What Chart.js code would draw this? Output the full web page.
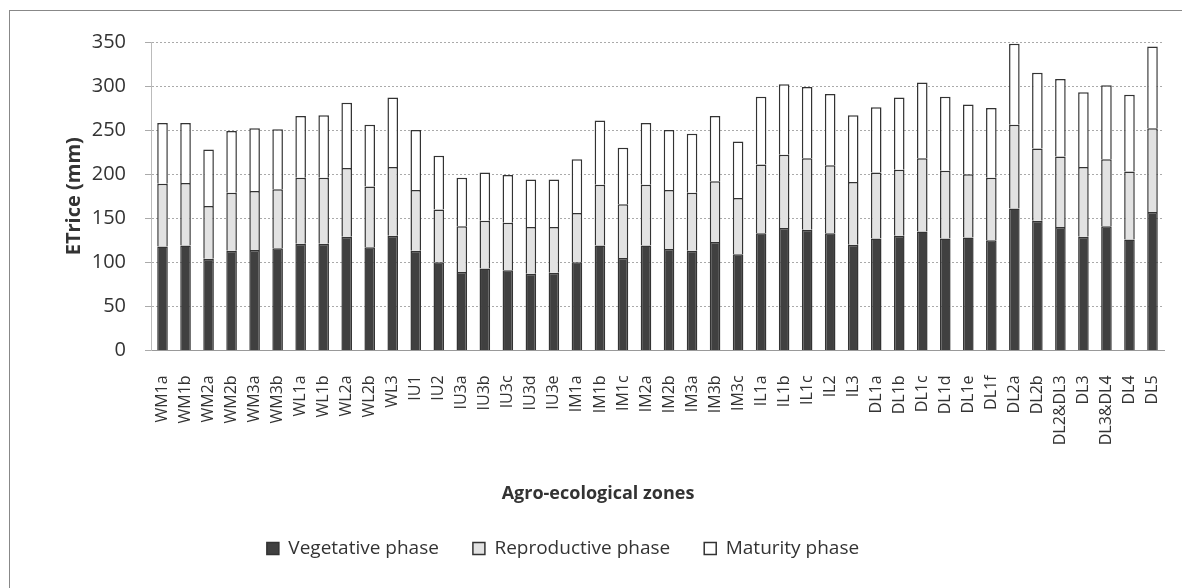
<!DOCTYPE html>
<html>
<head>
<meta charset="utf-8">
<script src="https://cdn.jsdelivr.net/npm/chart.js@4"></script>
<style>
  body { margin: 0; background: #fff; overflow: hidden; }
  #wrap { position: absolute; left: 9px; top: 10px; width: 1173px; height: 578px;
          border-left: 1px solid #888; border-top: 1px solid #888; }
</style>
</head>
<body>
<div id="wrap"><canvas id="chart"></canvas></div>
<script>
// Data (mm)
const zones = ['WM1a','WM1b','WM2a','WM2b','WM3a','WM3b','WL1a','WL1b','WL2a','WL2b','WL3',
  'IU1','IU2','IU3a','IU3b','IU3c','IU3d','IU3e','IM1a','IM1b','IM1c','IM2a','IM2b','IM3a','IM3b','IM3c',
  'IL1a','IL1b','IL1c','IL2','IL3','DL1a','DL1b','DL1c','DL1d','DL1e','DL1f','DL2a','DL2b','DL2&DL3',
  'DL3','DL3&DL4','DL4','DL5'];

const vegetative = [118,119,104,113,114,116,121,121,129,117,130,
  113,100,89,93,91,87,88,100,119,105,119,115,113,123,109,
  133,139,137,133,120,127,130,135,127,128,125,161,147,140,
  129,141,126,157];

const reproductive = [71,71,60,66,67,67,75,75,78,69,78,
  69,60,52,54,54,53,52,56,69,61,69,67,66,69,64,
  78,83,81,77,71,75,75,83,77,72,71,95,82,80,
  79,76,77,95];

const maturity = [69,68,64,70,71,68,70,71,74,70,79,
  68,61,55,55,54,54,54,61,73,64,70,68,67,74,64,
  77,80,81,81,76,74,82,86,84,79,79,92,86,88,
  85,84,87,93];

const yTicks = [0, 50, 100, 150, 200, 250, 300, 350];

const fontFamily = '"Open Sans", Lato, sans-serif';

// Excel centres the x title and legend on the whole chart, not the plot area
const shiftBoxes = {
  id: 'shiftBoxes',
  afterLayout(chart) {
    const t = chart.titleBlock;
    if (t) { t.left -= 15; t.right -= 15; }
    const l = chart.legend;
    if (l) { l.left -= 50; l.right -= 50; }
  }
};

new Chart(document.getElementById('chart'), {
  type: 'bar',
  data: {
    labels: zones,
    datasets: [
      { label: 'Vegetative phase', data: vegetative, backgroundColor: '#404040', borderColor: '#333', borderWidth: 1.5 },
      { label: 'Reproductive phase', data: reproductive, backgroundColor: '#e2e2e2', borderColor: '#333', borderWidth: 1.5 },
      { label: 'Maturity phase', data: maturity, backgroundColor: '#ffffff', borderColor: '#333', borderWidth: 1.5 }
    ]
  },
  plugins: [shiftBoxes],
  options: {
    responsive: true,
    maintainAspectRatio: false,
    animation: false,
    layout: { padding: { left: 52, right: 19, top: 30, bottom: 21 } },
    datasets: { bar: { categoryPercentage: 1, barPercentage: 0.46 } },
    plugins: {
      tooltip: { enabled: false },
      title: {
        display: true, position: 'bottom', weight: 500,
        text: 'Agro-ecological zones', color: '#333',
        font: { family: fontFamily, size: 18, weight: 'bold' },
        padding: { top: 3, bottom: 0 }
      },
      legend: {
        position: 'bottom',
        labels: {
          boxWidth: 12, boxHeight: 12, padding: 34,
          color: '#333', font: { family: fontFamily, size: 19 }
        }
      }
    },
    scales: {
      x: {
        stacked: true,
        afterFit: (scale) => { scale.height = 130; scale.paddingLeft = 0; scale.paddingRight = 0; },
        grid: { display: false },
        border: { color: '#999' },
        ticks: { color: '#333', padding: 17, maxRotation: 90, minRotation: 90, autoSkip: false,
                 font: { family: fontFamily, size: 16 } }
      },
      y: {
        stacked: true,
        min: yTicks[0],
        max: yTicks[yTicks.length - 1],
        afterBuildTicks: (axis) => { axis.ticks = yTicks.map(v => ({ value: v })); },
        afterFit: (scale) => { scale.width = 89; },
        grid: { color: '#aaa', tickLength: 6 },
        border: { color: '#bbb', dash: [2, 2] },
        ticks: { color: '#333', padding: 19, font: { family: fontFamily, size: 20 } },
        title: { display: true, text: 'ETrice (mm)', color: '#333',
                 font: { family: fontFamily, size: 20, weight: 'bold' }, padding: { top: 0, bottom: 4 } }
      }
    }
  }
});
</script>
</body>
</html>
